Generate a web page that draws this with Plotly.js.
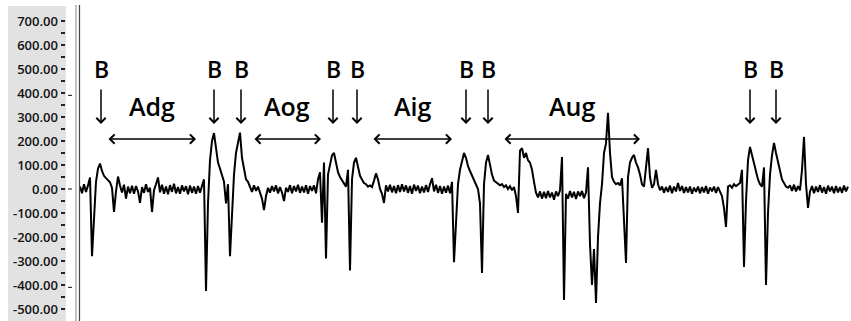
<!DOCTYPE html>
<html>
<head>
<meta charset="utf-8">
<script src="https://cdn.plot.ly/plotly-3.0.1.min.js"></script>
<style>html,body{margin:0;padding:0;background:#fff;}#chart{width:851px;height:321px;}</style>
</head>
<body>
<div id="chart"></div>
<script>
// EPG-style signal trace, uniform sampling (2 time units per sample, starting at t = 0)
const signal = [
  10, -18, 20, -12, 15, 48, -280, -120, 30, 85,
  106, 75, 55, 45, 38, 28, 5, -95, -10, 52,
  15, -15, 18, -40, 10, -18, 14, -20, 12, -10,
  -58, 8, -16, 20, -12, 5, -96, -5, 20, 48,
  -14, 18, -20, 10, -22, 16, -12, 22, -18, 8,
  -20, 15, -10, 12, -22, 14, -16, 10, -20, 12,
  -15, 8, 40, -425, -60, 120, 200, 233, 160, 110,
  85, 60, 30, -60, 20, -280, -80, 60, 150, 200,
  235, 130, 80, 40, 30, 5, -12, 15, -8, 10,
  -20, -40, -88, -30, 5, -15, 12, -10, 15, -18,
  8, -15, -50, 5, -12, 16, -18, 12, -10, 18,
  -16, 10, -14, 16, -20, 12, -8, 15, -18, 40,
  70, -140, 110, -290, 60, 100, 140, 150, 110, 70,
  50, 35, 20, 10, 80, -340, 40, 110, 130, 90,
  55, 40, 25, 20, 10, 15, 8, 35, 65, 40,
  0, -20, -58, 15, -10, 18, -14, 12, -18, 16,
  -12, 20, -10, 15, -16, 12, -20, 18, -8, 14,
  -18, 10, -14, 16, -12, 20, 45, -10, 18, -16,
  12, -20, 10, -15, 14, -18, 30, -305, -120, 20,
  80, 120, 150, 130, 95, 75, 55, 35, 15, 0,
  -60, -350, 20, 110, 142, 100, 60, 35, 28, 22,
  15, 20, 8, 15, 0, 12, -5, 8, -30, -100,
  160, 170, 130, 150, 120, 110, 80, 30, -15, -35,
  -10, -40, -12, -38, -8, -35, -15, -45, -10, -30,
  -5, 133, -462, -20, -40, -8, -35, -12, -42, -10,
  -30, -8, -38, -15, 90, -230, -400, -250, -475, -200,
  -60, 20, 150, 190, 317, 150, 50, 30, 20, 25,
  15, 45, -150, -308, 50, 110, 130, 142, 110, 90,
  60, 20, 10, 100, 170, 50, 5, 20, 80, 20,
  -5, 10, -15, 8, -12, 14, -18, 10, -10, 25,
  -8, 12, -16, 8, -14, 10, -20, 6, -12, 10,
  -18, 8, -14, 12, -20, 6, -10, 10, -16, 8,
  -12, -30, -80, -158, 10, 15, 5, 20, 12, 18,
  25, 80, -325, -50, 120, 175, 140, 100, 70, 40,
  20, 10, 90, -400, -100, 60, 140, 192, 150, 110,
  70, 40, 25, 10, 5, 15, -8, 18, -10, 12,
  -6, 80, 217, 20, -79, -10, 12, -18, 10, -12,
  16, -15, 8, -20, 14, -10, 10, -18, 12, -14,
  8, -16, 14, -10, 10
];

// Y-axis tick values and labels
const tickValues = [700, 600, 500, 400, 300, 200, 100, 0, -100, -200, -300, -400, -500];
const tickLabels = ['700.00', '600.00', '500.00', '400.00', '300.00', '200.00', '100.00', '0.00',
                    '-100.00', '-200.00', '-300.00', '-400.00', '-500.00'];
const minorTickValues = [650, 550, 450, 350, 250, 150, 50, -50, -150, -250, -350, -450];

// Event markers: "B" times, and waveform phases with start / end times
const bLabel = 'B';
const bTimes = [21, 134, 161, 253, 277, 386, 408, 670, 696];
const phaseNames = ['Adg', 'Aog', 'Aig', 'Aug'];
const phaseStart = [27, 173, 292, 423];
const phaseEnd = [116, 241, 372, 560];

const W = 851, H = 321;
const px = v => v / W;

const trace = {
  type: 'scatter', mode: 'lines',
  y: signal, x0: 0, dx: 2,
  line: { color: '#000', width: 2 },
  hoverinfo: 'skip', showlegend: false
};

const annotations = [];
const labelFont = { family: 'Open Sans, sans-serif', size: 23, color: '#000', weight: 600 };
bTimes.forEach(t => {
  annotations.push({ x: t, y: 500, xref: 'x', yref: 'y', text: bLabel, showarrow: false,
    font: labelFont, xanchor: 'center', yanchor: 'middle' });
  annotations.push({ x: t, y: 271, xref: 'x', yref: 'y', text: '', showarrow: true,
    ax: 0, ay: -36, arrowhead: 4, arrowsize: 1.2, arrowwidth: 1.5, arrowcolor: '#000', standoff: 0 });
});
phaseNames.forEach((name, i) => {
  const mid = (phaseStart[i] + phaseEnd[i]) / 2;
  annotations.push({ x: mid, y: 345, xref: 'x', yref: 'y', text: name, showarrow: false,
    font: { family: 'Open Sans, sans-serif', size: 25, color: '#000', weight: 600 },
    xanchor: 'center', yanchor: 'middle' });
  annotations.push({ x: phaseEnd[i], y: 208, xref: 'x', yref: 'y', ax: phaseStart[i], ay: 208,
    axref: 'x', ayref: 'y', text: '', showarrow: true, arrowside: 'end+start',
    arrowhead: 4, startarrowhead: 4, arrowsize: 1.2, startarrowsize: 1.2, arrowwidth: 1.5,
    arrowcolor: '#000', standoff: 0, startstandoff: 0 });
});

const shapes = [
  // grey label panel
  { type: 'rect', xref: 'paper', yref: 'paper', x0: px(8), x1: px(66), y0: 0, y1: 1 - 6 / H,
    fillcolor: '#e2e2e2', line: { width: 0 }, layer: 'below' },
  // double frame line
  { type: 'line', xref: 'paper', yref: 'paper', x0: px(76), x1: px(76), y0: 0, y1: 1 - 5 / H,
    line: { color: '#888', width: 1 } },
  { type: 'line', xref: 'paper', yref: 'paper', x0: px(79.5), x1: px(79.5), y0: 0, y1: 1 - 5 / H,
    line: { color: '#444', width: 1.2 } }
];
[390, 0, -410].forEach(v => shapes.push({ type: 'line', xref: 'paper', yref: 'y',
  x0: px(68), x1: px(72), y0: v, y1: v, line: { color: '#333', width: 1.2 } }));

const layout = {
  width: W, height: H,
  margin: { l: 0, r: 0, t: 0, b: 0, pad: 0 },
  paper_bgcolor: '#fff', plot_bgcolor: '#fff',
  showlegend: false,
  xaxis: { domain: [px(80), 1], range: [0, 771], showgrid: false, zeroline: false,
           showline: false, showticklabels: false, ticks: '', fixedrange: true },
  yaxis: { anchor: 'free', position: px(64.5), side: 'left', range: [-550, 787.5],
           showgrid: false, zeroline: false, showline: false,
           tickmode: 'array', tickvals: tickValues, ticktext: tickLabels,
           ticks: 'outside', ticklen: 4, tickwidth: 1.5, tickcolor: '#222',
           tickfont: { family: 'Open Sans, sans-serif', size: 13, color: '#111', weight: 600 },
           minor: { tickmode: 'array', tickvals: minorTickValues, ticks: 'outside',
                    ticklen: 4, tickwidth: 1.5, tickcolor: '#222', showgrid: false },
           fixedrange: true },
  annotations: annotations,
  shapes: shapes
};

Plotly.newPlot('chart', [trace], layout, { displayModeBar: false, staticPlot: true });
</script>
</body>
</html>
